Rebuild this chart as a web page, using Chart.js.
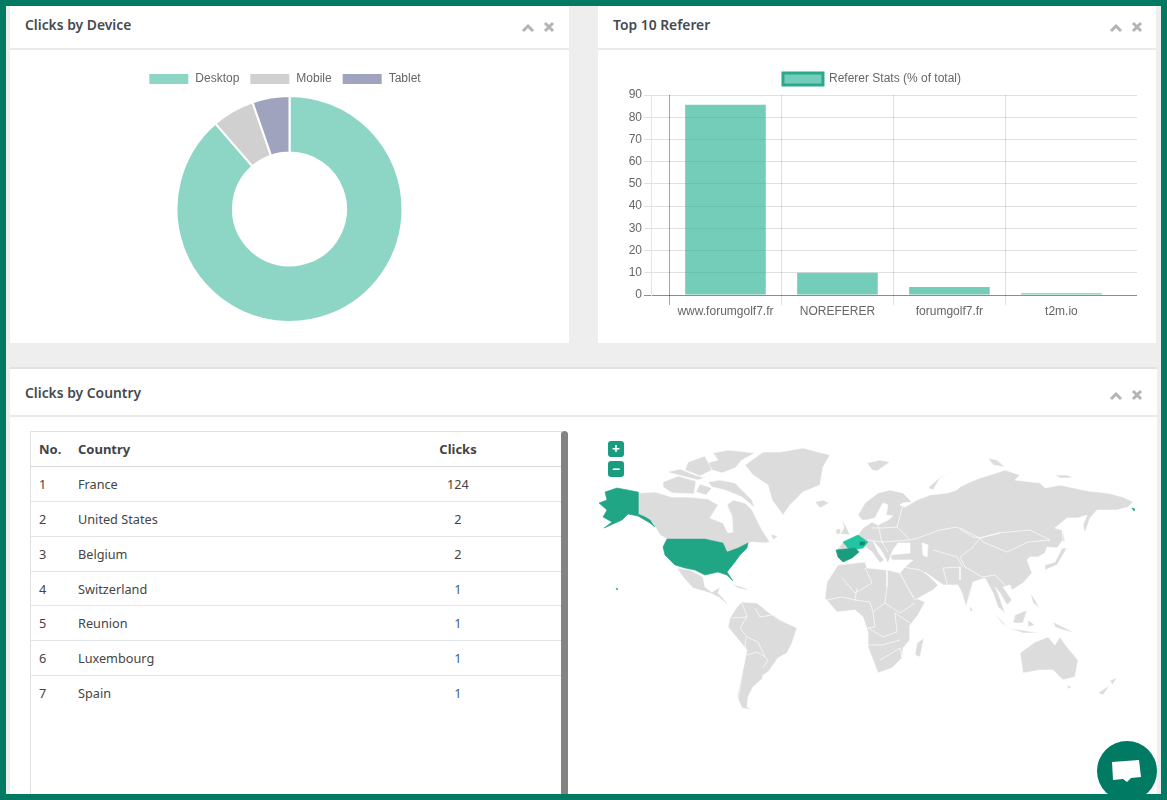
<!DOCTYPE html>
<html>
<head>
<meta charset="utf-8">
<title>Clicks dashboard</title>
<script src="https://cdn.jsdelivr.net/npm/chart.js@4/dist/chart.umd.min.js"></script>
<style>
html, body { margin: 0; padding: 0; }
body { width: 1167px; height: 800px; background: #eeeeee; overflow: hidden; position: relative; font-family: "Noto Sans", "Open Sans", sans-serif; color: #444; font-size: 12.7px; }
.frame { position: absolute; left: 0; top: 0; width: 1155px; height: 788px; border: 6px solid #007a63; z-index: 5; pointer-events: none; }
.panel { position: absolute; background: #fff; }
.panel .title { position: absolute; left: 15px; top: 8px; font-size: 13.85px; font-weight: 600; color: #454a50; line-height: 22px; white-space: nowrap; }
.panel .rule { position: absolute; left: 0; right: 0; height: 2px; background: #e8ebec; }
.icons { position: absolute; width: 34px; height: 12px; }
#devicePanel { left: 10px; top: 6px; width: 559px; height: 337px; }
#refererPanel { left: 598px; top: 6px; width: 558px; height: 337px; }
#countryPanel { left: 10px; top: 369px; width: 1147px; height: 431px; border-top: 0; }
#countryPanel:before { content: ""; position: absolute; left: 0; right: 0; top: -2px; height: 2px; background: #dfe3e6; }
canvas { position: absolute; }
#deviceChart { left: 0; top: 57px; }
#refererChart { left: 19px; top: 55px; }
#mapChart { left: 565px; top: 61px; }
#tableBox { position: absolute; left: 20px; top: 62px; width: 531px; height: 369px; border-left: 1px solid #dde1e4; border-top: 1px solid #dde1e4; }
#countryTable { border-collapse: collapse; width: 531px; table-layout: fixed; }
#countryTable th, #countryTable td { height: 33.9px; padding: 0; border-bottom: 1.5px solid #e3e6e8; text-align: left; font-weight: 400; }
#countryTable tr:last-child td { border-bottom: 0; }
#countryTable th { font-size: 13px; font-weight: 700; color: #3f4448; border-bottom-color: #d5d8da; }
#countryTable .no { width: 47px; padding-left: 8px; box-sizing: border-box; }
#countryTable .name { width: 278px; }
#countryTable .clicks { text-align: center; width: 206px; padding-right: 2px; box-sizing: border-box; }
#countryTable td.small { color: #3b5f7d; }
#scrollThumb { position: absolute; left: 551px; top: 62px; width: 7px; height: 369px; background: rgba(90,90,90,.75); border-radius: 4px 4px 0 0; }
.zoomBtn { position: absolute; left: 598px; width: 16px; height: 16px; background: #1a9c7e; color: #fff; border-radius: 3px; font-size: 14px; line-height: 15px; text-align: center; font-weight: 700; }
#chatBubble { position: absolute; left: 1097px; top: 741px; z-index: 4; }
</style>
</head>
<body>
<div class="frame"></div>

<div class="panel" id="devicePanel">
  <div class="title">Clicks by Device</div>
  <div class="rule" style="top:42px"></div>
  <svg class="icons" style="left:511px;top:15px" viewBox="0 0 34 12"><path d="M2 10 L7 5 L12 10" fill="none" stroke="#b4b4b4" stroke-width="3"/><path d="M24 2 L32 10 M32 2 L24 10" stroke="#b4b4b4" stroke-width="3"/></svg>
  <canvas id="deviceChart"></canvas>
</div>

<div class="panel" id="refererPanel">
  <div class="title">Top 10 Referer</div>
  <div class="rule" style="top:42px"></div>
  <svg class="icons" style="left:511px;top:15px" viewBox="0 0 34 12"><path d="M2 10 L7 5 L12 10" fill="none" stroke="#b4b4b4" stroke-width="3"/><path d="M24 2 L32 10 M32 2 L24 10" stroke="#b4b4b4" stroke-width="3"/></svg>
  <canvas id="refererChart"></canvas>
</div>

<div class="panel" id="countryPanel">
  <div class="title" style="top:13px">Clicks by Country</div>
  <div class="rule" style="top:46px"></div>
  <svg class="icons" style="left:1099px;top:20px" viewBox="0 0 34 12"><path d="M2 10 L7 5 L12 10" fill="none" stroke="#b4b4b4" stroke-width="3"/><path d="M24 2 L32 10 M32 2 L24 10" stroke="#b4b4b4" stroke-width="3"/></svg>
  <div id="tableBox">
    <table id="countryTable">
      <thead><tr><th class="no">No.</th><th class="name">Country</th><th class="clicks">Clicks</th></tr></thead>
      <tbody id="countryRows"></tbody>
    </table>
  </div>
  <div id="scrollThumb"></div>
  <canvas id="mapChart"></canvas>
  <div class="zoomBtn" style="top:72px">+</div>
  <div class="zoomBtn" style="top:92px">&minus;</div>
</div>

<svg id="chatBubble" width="60" height="60" viewBox="0 0 60 60">
  <circle cx="30" cy="30" r="30" fill="#007a63"/>
  <path d="M15 21 L42 19 L44 36 L34 37 L30 41 L26 38 L16 39 Z" fill="#fff"/>
</svg>

<script>
var deviceLabels = ['Desktop', 'Mobile', 'Tablet'];
var deviceValues = [117, 8, 7];
var deviceColors = ['#8dd6c6', '#d0d0d0', '#9fa3bd'];

var refererLabels = ['www.forumgolf7.fr', 'NOREFERER', 'forumgolf7.fr', 't2m.io'];
var refererValues = [85.6, 10, 3.6, 0.8];
var refererTicks = [0, 1, 2, 3];
var refererGrid = [-0.5, 0.5, 1.5, 2.5];

var countryNames = ['France', 'United States', 'Belgium', 'Switzerland', 'Reunion', 'Luxembourg', 'Spain'];
var countryClicks = [124, 2, 2, 1, 1, 1, 1];

// Map outlines
var alaska = [[605,492],[617,488],[638,492],[638,514],[645,517],[650,520],[655,527],[650,523],[638,516],[628,514],[622,520],[604,528],[612,522],[603,517],[607,510],[599,503],[607,500]];
var canada = [[638,493],[655,492],[672,497],[688,497],[708,499],[718,505],[710,518],[723,523],[728,533],[733,532],[732,516],[727,505],[733,500],[745,503],[752,510],[762,530],[770,542],[765,543],[752,542],[747,544],[738,548],[727,552],[723,543],[705,539],[667,539],[660,535],[653,523],[638,514]];
var arcticA = [[663,482],[678,476],[696,481],[694,494],[672,493],[663,487]];
var arcticB = [[667,472],[680,469],[695,475],[705,478],[698,480],[678,475]];
var arcticC = [[700,484],[712,488],[706,495],[696,492]];
var arcticD = [[688,462],[705,456],[712,470],[700,476],[685,470]];
var baffin = [[708,482],[720,480],[735,483],[752,500],[755,508],[742,497],[725,490],[712,487]];
var ellesmere = [[713,453],[728,450],[755,453],[742,460],[735,468],[722,473],[712,470],[707,463],[718,460]];
var newfoundland = [[771,534],[778,536],[773,540]];
var greenland = [[745,465],[763,452],[780,452],[803,448],[830,455],[823,467],[820,485],[803,492],[790,505],[783,515],[772,500],[768,485],[753,475]];
var iceland = [[815,502],[823,500],[829,503],[820,508]];
var unitedStates = [[667,539],[705,539],[723,543],[727,552],[738,548],[748,543],[747,548],[740,555],[735,562],[727,572],[733,581],[727,575],[718,572],[705,575],[695,570],[685,568],[675,565],[665,555],[663,547]];
var hawaii = [[616,588],[618,589],[617,590]];
var aleutian = [[1132,508],[1135,509],[1134,511]];
var mexico = [[677,568],[690,570],[703,577],[705,587],[712,592],[720,587],[718,593],[723,598],[730,607],[720,598],[710,593],[693,588],[683,577]];
var cuba = [[730,583],[745,588],[750,591],[738,588]];
var southAmerica = [[742,602],[757,603],[768,612],[780,620],[797,628],[792,643],[787,653],[778,658],[768,672],[763,675],[763,678],[753,687],[748,697],[747,707],[752,710],[742,708],[737,697],[740,683],[745,660],[747,650],[728,627],[730,618],[737,607]];
var eurasia = [[837,550],[843,542],[858,535],[863,528],[872,522],[878,525],[888,520],[893,516],[886,515],[888,505],[883,503],[878,512],[875,518],[867,520],[862,520],[858,515],[865,503],[878,493],[890,490],[903,493],[912,502],[903,503],[900,505],[905,507],[917,500],[930,495],[947,493],[957,490],[960,487],[970,482],[980,478],[993,474],[1005,470],[1020,475],[1015,480],[1040,483],[1045,488],[1060,485],[1088,491],[1107,493],[1123,497],[1133,502],[1128,507],[1117,510],[1097,510],[1090,518],[1085,533],[1083,525],[1087,515],[1078,518],[1067,518],[1055,528],[1062,530],[1063,540],[1057,548],[1047,547],[1045,553],[1038,557],[1030,557],[1027,560],[1032,573],[1023,583],[1012,590],[1010,585],[1003,587],[1012,600],[1007,605],[1000,593],[995,587],[998,593],[1005,613],[998,607],[993,593],[985,578],[973,582],[966,607],[962,593],[958,585],[950,585],[943,585],[933,578],[925,572],[938,585],[933,590],[915,600],[911,593],[902,577],[900,573],[905,567],[913,560],[892,560],[890,555],[910,553],[910,543],[898,543],[893,550],[888,563],[881,550],[873,541],[878,552],[884,560],[880,563],[872,552],[863,545],[855,548],[859,552],[852,558],[843,562],[838,557],[836,550]];
var caspian = [[922,543],[928,545],[927,557],[923,555]];
var africa = [[838,565],[865,562],[867,568],[887,570],[900,573],[913,597],[925,602],[918,615],[910,625],[910,640],[903,648],[902,658],[892,668],[878,673],[868,647],[868,632],[863,617],[855,610],[837,612],[825,598],[827,582]];
var madagascar = [[924,638],[920,657],[915,655],[917,643]];
var britain = [[842,520],[847,528],[850,535],[840,534],[844,528]];
var ireland = [[836,529],[841,529],[840,534],[836,534]];
var novayaZemlya = [[928,488],[940,477],[952,472],[940,478],[933,490]];
var svalbard = [[867,463],[880,460],[890,462],[877,471],[872,470]];
var franzJosef = [[988,458],[997,460],[1005,467],[993,465]];
var newSiberia = [[1055,475],[1067,475],[1073,478],[1060,478]];
var japan = [[1062,548],[1067,548],[1057,565],[1045,570],[1045,565],[1055,562]];
var sakhalin = [[1063,530],[1065,543],[1062,540]];
var philippines = [[1030,592],[1040,608],[1033,603]];
var sumatra = [[993,612],[1008,627],[1002,623]];
var java = [[1008,628],[1040,633],[1023,633]];
var borneo = [[1015,615],[1027,610],[1023,623],[1013,623]];
var sulawesi = [[1028,620],[1035,625],[1028,627]];
var newGuinea = [[1053,622],[1075,633],[1063,630],[1055,627]];
var australia = [[1035,642],[1048,637],[1055,645],[1060,637],[1067,647],[1078,660],[1075,677],[1063,680],[1053,670],[1040,670],[1023,673],[1020,653]];
var tasmania = [[1067,685],[1072,687],[1068,689]];
var newZealandN = [[1110,680],[1117,678],[1112,685]];
var newZealandS = [[1098,693],[1110,685],[1103,695]];
var sriLanka = [[970,606],[973,610],[970,612]];
var france = [[843,542],[858,535],[868,542],[863,548],[853,550],[848,548]];
var spain = [[836,550],[855,548],[859,552],[852,558],[843,562],[838,557]];
var luxembourg = [[860,542],[865,542],[864,545],[860,545]];

var landShapes = [canada, arcticA, arcticB, arcticC, arcticD, baffin, ellesmere, newfoundland, greenland, iceland, mexico, cuba, southAmerica, eurasia, africa, madagascar, britain, ireland, novayaZemlya, svalbard, franzJosef, newSiberia, japan, sakhalin, philippines, sumatra, java, borneo, sulawesi, newGuinea, australia, tasmania, newZealandN, newZealandS, sriLanka];
var usShapes = [alaska, unitedStates, hawaii, aleutian];

var borderLines = [
  [[747,617],[740,628],[747,637],[758,642],[765,657],[768,660],[763,668]],
  [[746,637],[743,667],[740,687],[738,700]],
  [[747,655],[757,652],[765,657]],
  [[742,603],[747,617],[732,618]],
  [[755,608],[760,617],[772,615]],
  [[842,578],[855,593],[872,583],[865,568]],
  [[887,570],[887,587],[885,603],[900,613],[915,603]],
  [[857,588],[855,600],[870,602],[873,612],[885,603]],
  [[827,600],[842,597],[855,600]],
  [[873,612],[875,627],[868,628],[883,637],[897,632],[895,613],[910,623]],
  [[868,645],[883,645],[900,640]],
  [[880,660],[900,648],[902,658]],
  [[918,538],[940,530],[957,527],[973,537],[980,538],[1000,533]],
  [[960,528],[980,538],[998,533],[1030,530],[1050,540],[1028,542],[1007,552],[983,542],[980,538]],
  [[980,538],[972,548],[960,557],[965,567],[982,577],[995,575],[1005,585]],
  [[933,550],[957,557],[963,567]],
  [[903,505],[897,527],[910,540],[918,538]],
  [[872,528],[883,528],[897,527]],
  [[867,540],[883,542],[910,540]],
  [[878,525],[882,542],[888,552]],
  [[903,567],[920,570],[943,585]],
  [[943,568],[948,587]],
  [[943,568],[960,567],[960,580]]
];

// table rows
var rows = '';
for (var i = 0; i < countryNames.length; i++) {
    var cls = countryClicks[i] == 1 ? 'clicks small' : 'clicks';
    rows += '<tr><td class="no">' + (i + 1) + '</td><td class="name">' + countryNames[i] + '</td><td class="' + cls + '">' + countryClicks[i] + '</td></tr>';
}
document.getElementById('countryRows').innerHTML = rows;

Chart.defaults.font.family = '"Liberation Sans", Arial, sans-serif';
Chart.defaults.font.size = 12;
Chart.defaults.color = '#666';
Chart.defaults.animation = false;

function sizeCanvas(id, w, h) {
    var c = document.getElementById(id);
    c.style.width = w + 'px';
    c.style.height = h + 'px';
    c.width = w;
    c.height = h;
    return c;
}

// The legend sits a little left of the chart centre in the original
function shiftLegend(dx) {
    return {
        id: 'shiftLegend',
        afterLayout: function (chart) {
            chart.legend.left += dx;
            chart.legend.right += dx;
        }
    };
}

new Chart(sizeCanvas('deviceChart', 559, 260), {
    type: 'doughnut',
    data: {
        labels: deviceLabels,
        datasets: [{ data: deviceValues, backgroundColor: deviceColors, borderColor: '#fff', borderWidth: 2 }]
    },
    plugins: [shiftLegend(-5)],
    options: {
        responsive: false,
        cutout: '50%',
        plugins: {
            legend: { position: 'top', labels: { boxWidth: 41, boxHeight: 12 } },
            tooltip: { enabled: false }
        }
    }
});

new Chart(sizeCanvas('refererChart', 520, 280), {
    type: 'bar',
    data: {
        datasets: [{
            label: 'Referer Stats (% of total)',
            data: refererValues.map(function (v, i) { return { x: i, y: v }; }),
            backgroundColor: 'rgba(38,176,145,0.64)',
            borderWidth: 0
        }]
    },
    plugins: [shiftLegend(-5)],
    options: {
        responsive: false,
        layout: { padding: { bottom: 18 } },
        plugins: {
            legend: {
                position: 'top',
                labels: {
                    boxWidth: 40,
                    boxHeight: 12,
                    padding: 12,
                    generateLabels: function (chart) {
                        var ds = chart.data.datasets[0];
                        return [{ text: ds.label, fillStyle: ds.backgroundColor, strokeStyle: '#2aa98e', lineWidth: 3, fontColor: '#666', datasetIndex: 0 }];
                    }
                }
            },
            tooltip: { enabled: false }
        },
        scales: {
            y: {
                min: 0,
                max: 90,
                ticks: { stepSize: 10, padding: 2 },
                grid: {
                    tickLength: 7,
                    color: function (ctx) { return ctx.tick.value === 0 ? 'rgba(0,0,0,0.45)' : 'rgba(0,0,0,0.12)'; }
                },
                border: { color: 'rgba(0,0,0,0.1)' },
                afterFit: function (s) { s.width = 34; }
            },
            // labels sit mid bar, grid lines sit between bars, so two axes
            x: {
                type: 'linear',
                offset: false,
                min: -0.665,
                max: 3.675,
                weight: 1,
                afterBuildTicks: function (s) { s.ticks = refererTicks.map(function (v) { return { value: v }; }); },
                afterFit: function (s) { s.height = 18; },
                ticks: {
                    autoSkip: false,
                    maxRotation: 0,
                    padding: -1,
                    callback: function (v) { return refererLabels[v]; }
                },
                grid: { display: false, drawTicks: false, offset: false },
                border: { display: false }
            },
            x2: {
                axis: 'x',
                type: 'linear',
                position: 'bottom',
                offset: false,
                min: -0.665,
                max: 3.675,
                weight: 0,
                afterBuildTicks: function (s) { s.ticks = refererGrid.map(function (v) { return { value: v }; }); },
                afterFit: function (s) { s.height = 10; },
                ticks: { display: false },
                grid: {
                    offset: false,
                    tickLength: 10,
                    color: function (ctx) { return ctx.index === 0 ? 'rgba(0,0,0,0.35)' : 'rgba(0,0,0,0.12)'; }
                },
                border: { display: false }
            }
        }
    }
});

function mapDataset(shape, color, line, order) {
    var pts = shape.map(function (p) { return { x: p[0], y: p[1] }; });
    pts.push(pts[0]);
    return { data: pts, showLine: true, pointRadius: 0, tension: 0, fill: 'shape', backgroundColor: color, borderColor: line, borderWidth: 0.6, order: order };
}

function borderDataset(points) {
    return {
        data: points.map(function (p) { return { x: p[0], y: p[1] }; }),
        showLine: true, pointRadius: 0, tension: 0, fill: false,
        borderColor: 'rgba(255,255,255,0.85)', borderWidth: 0.8, order: 1
    };
}

var mapSets = [];
landShapes.forEach(function (s) { mapSets.push(mapDataset(s, '#dcdcdc', '#ffffff', 3)); });
mapSets.push(mapDataset(caspian, '#ffffff', '#ffffff', 2));
borderLines.forEach(function (b) { mapSets.push(borderDataset(b)); });
usShapes.forEach(function (s) { mapSets.push(mapDataset(s, '#20a585', '#20a585', 0)); });
mapSets.push(mapDataset(spain, '#1a9c7e', '#1a9c7e', 0));
mapSets.push(mapDataset(france, '#22c5a2', '#22c5a2', 0));
mapSets.push(mapDataset(luxembourg, '#14896f', '#14896f', -1));

new Chart(sizeCanvas('mapChart', 580, 300), {
    type: 'scatter',
    data: { datasets: mapSets },
    options: {
        responsive: false,
        layout: { padding: 0 },
        plugins: { legend: { display: false }, tooltip: { enabled: false } },
        scales: {
            x: { type: 'linear', display: false, min: 575, max: 1155 },
            y: { type: 'linear', display: false, min: 430, max: 730, reverse: true }
        }
    }
});
</script>
</body>
</html>
